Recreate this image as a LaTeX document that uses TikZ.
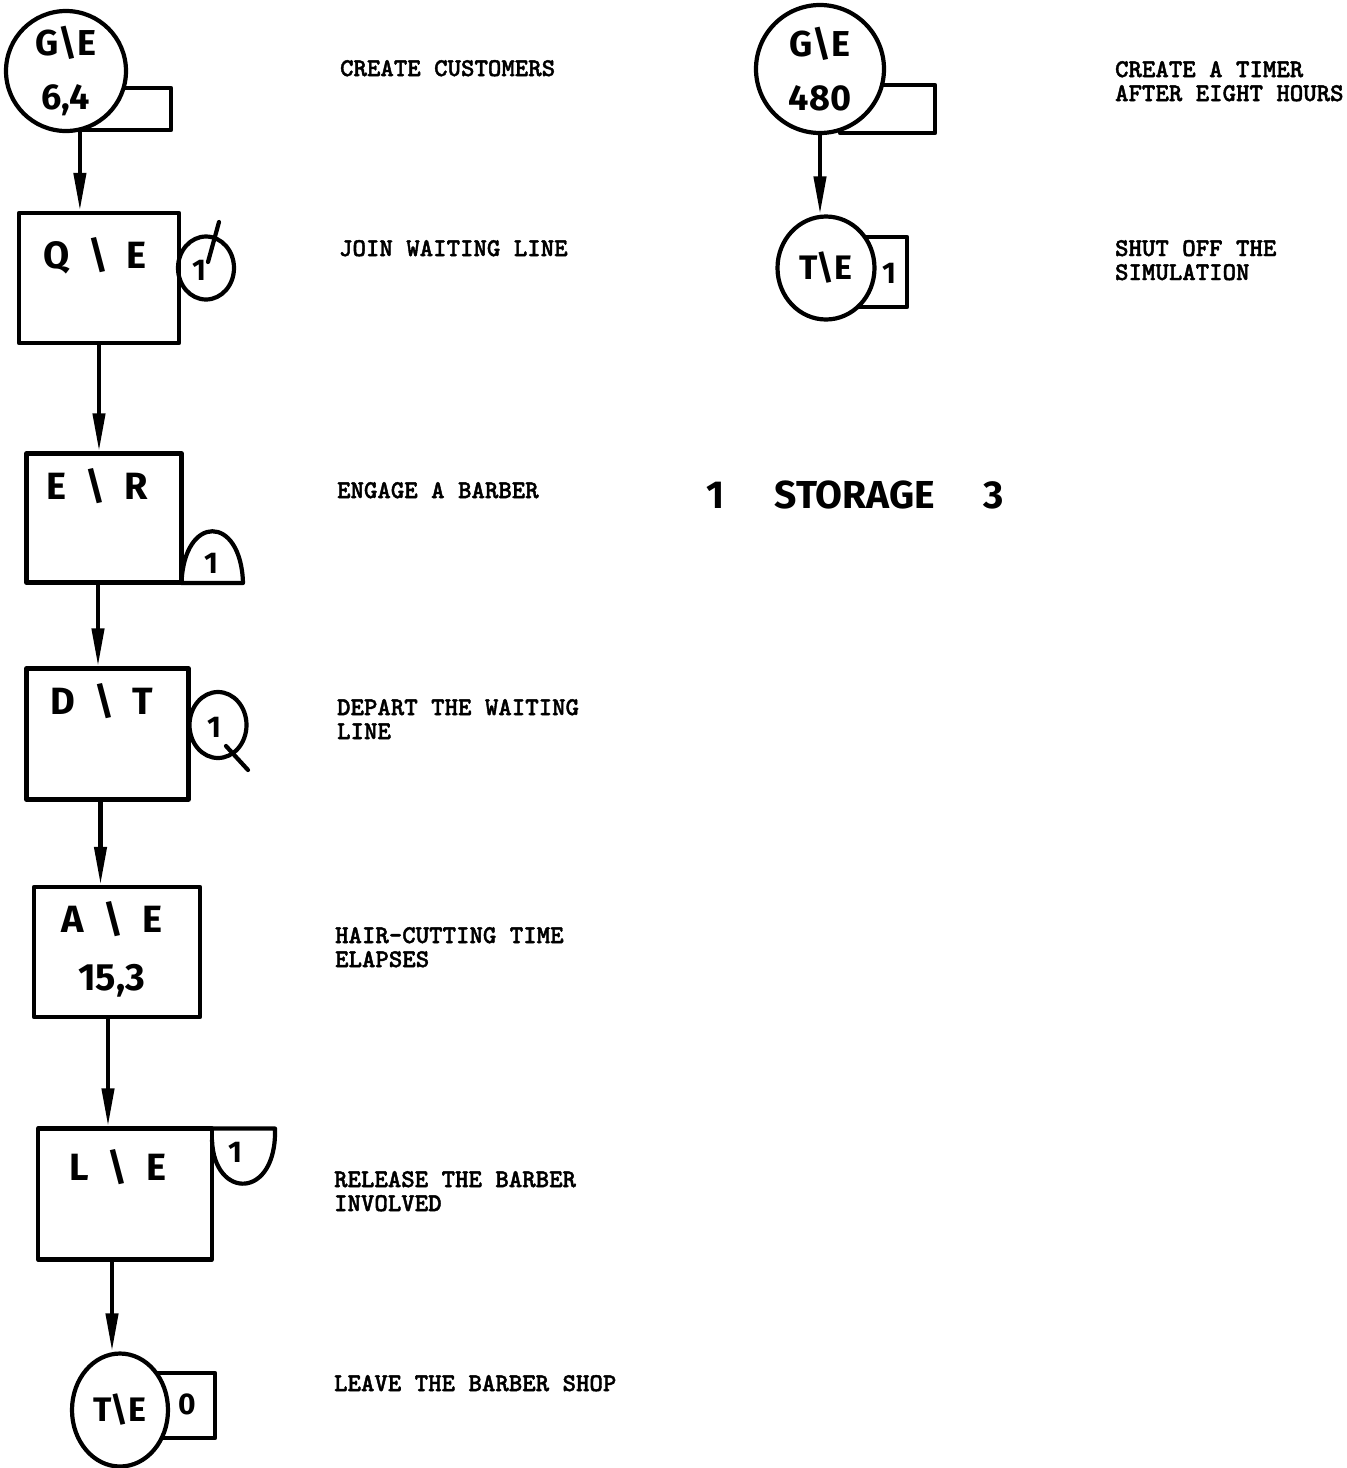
\documentclass[tikz,border=0pt]{standalone}
\usepackage{fontspec}
\newfontfamily\notefont{lmmonolt10-bold.otf}[FakeBold=1.6]
\newfontfamily\handfont{Fira Sans}
\usetikzlibrary{arrows.meta,shapes.geometric}

\begin{document}
\begin{tikzpicture}[x=.5pt,y=-.5pt,line width=2.1pt,line cap=round,line join=round,
 hand/.style={inner sep=0pt,align=center,font=\handfont\bfseries\fontsize{19}{29}\selectfont},
 digit/.style={inner sep=0pt,font=\handfont\bfseries\fontsize{15}{15}\selectfont},
 blk/.style={draw,rectangle,inner sep=0pt},
 tab/.style={draw,rectangle,inner sep=0pt},
 disc/.style={draw,circle,fill=white,inner sep=0pt,hand,font=\handfont\bfseries\fontsize{18}{27}\selectfont},
 oval/.style={draw,ellipse,fill=white,inner sep=0pt,hand,font=\handfont\bfseries\fontsize{17}{17}\selectfont},
 ring/.style={draw,ellipse,inner sep=0pt},
 note/.style={inner sep=0pt,anchor=north west,align=left,
  font=\notefont\fontsize{12.8}{12}\selectfont},
 flow/.style={-{Triangle[length=19pt,width=6pt]}}]
\useasboundingbox (0,0) rectangle (1347,1468);

% customer chain
\node[tab,minimum width=44.5pt,minimum height=21pt] (gtab) at (126.5,109) {};
\node[disc,minimum size=60pt] (gen) at (66,71) {G\textbackslash E\\6,4};
\foreach \n/\x/\y/\w/\h in {queue/99/278/80/65,enter/104/518/77.5/64.5,
 depart/107.5/734/81/65.5,advance/117/952/83/65,leave/125/1194/87/65.5}
 \node[blk,minimum width=\w pt,minimum height=\h pt] (\n) at (\x,\y) {};
\foreach \n/\x/\y/\t in {qtxt/95/256/{Q\enspace\textbackslash\enspace E},
 etxt/97/486/{E\enspace\textbackslash\enspace R},dtxt/102/701/{D\enspace\textbackslash\enspace T},
 atxt/112/949/{A\enspace\textbackslash\enspace E\\15,3},ltxt/118/1167/{L\enspace\textbackslash\enspace E}}
 \node[hand] (\n) at (\x,\y) {\t};
\node[tab,minimum width=37.5pt,minimum height=32.5pt] (ttab) at (177.5,1405.5) {};
\node[oval,minimum width=48pt,minimum height=56.5pt] (term) at (120,1410) {T\textbackslash E};
\node[digit] (tcnt) at (187,1404) {0};

\draw[flow] (gtab.south west) -- (gtab.south west |- queue.north);
\foreach \a/\b/\s in {queue/enter/0,enter/depart/-3,depart/advance/-3.5,
 advance/leave/-4.5,leave/term/-6.5}
 \draw[flow] ([xshift=\s pt]\a.south) coordinate (s\a) -- (s\a |- \b.north);

% queue, facility and release marks
\node[ring,minimum width=28pt,minimum height=31.5pt] (qring) at (206,268) {};
\node[digit] (qnum) at (199,270) {1};
\draw (208,262) -- (219,222);
\draw (181.5,583) .. controls (184,514) and (241,514) .. (243,583) -- cycle;
\node[digit] (fnum) at (211,563) {1};
\node[ring,minimum width=28.5pt,minimum height=33pt] (dring) at (218,725) {};
\node[digit] (dnum) at (214,727) {1};
\draw (226,746) -- (248,770);
\draw (212,1128.5) -- (275,1128.5) .. controls (277,1200) and (214,1200) .. (212,1140);
\node[digit] (rnum) at (235,1152) {1};

% timer
\node[tab,minimum width=47.5pt,minimum height=24pt] (g2tab) at (887.5,109) {};
\node[disc,minimum size=64pt] (timer) at (820,69) {G\textbackslash E\\480};
\node[tab,minimum width=33.5pt,minimum height=35pt] (s2tab) at (873.5,272) {};
\node[oval,minimum width=48.5pt,minimum height=51.5pt] (stop) at (826,268) {T\textbackslash E};
\node[digit] (snum) at (889,273) {1};
\draw[flow] (timer.south) -- (timer.south |- stop.north);

\node[hand,font=\handfont\bfseries\fontsize{19.5}{19.5}\selectfont] (storage) at (855,495)
 {1\hspace{25pt}STORAGE\hspace{24pt}3};

\foreach \n/\x/\y/\t in {c1/338/58/CREATE CUSTOMERS,c2/337/238/JOIN WAITING LINE,
 c3/335/480/ENGAGE A BARBER,c4/335/697/{DEPART THE WAITING\\LINE},
 c5/333/925/{HAIR-CUTTING TIME\\ELAPSES},c6/332/1169/{RELEASE THE BARBER\\INVOLVED},
 c7/332/1373/LEAVE THE BARBER SHOP,c8/1113/59/{CREATE A TIMER\\AFTER EIGHT HOURS},
 c9/1113/238/{SHUT OFF THE\\SIMULATION}}
 \node[note] (\n) at (\x,\y) {\t};
\end{tikzpicture}
\end{document}
